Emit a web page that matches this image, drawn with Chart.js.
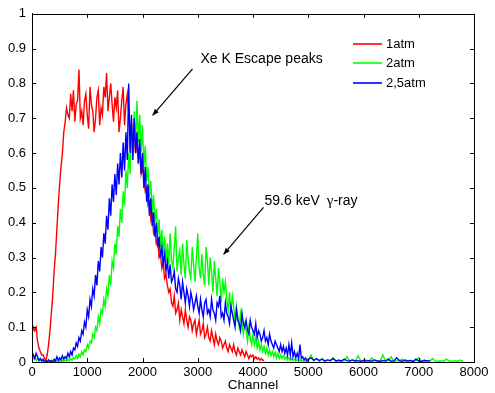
<!DOCTYPE html>
<html>
<head>
<meta charset="utf-8">
<script src="https://cdn.jsdelivr.net/npm/chart.js@4.4.1/dist/chart.umd.min.js"></script>
<style>
  html, body { margin: 0; padding: 0; background: #fff; }
  #wrap { width: 495px; height: 393px; }
</style>
</head>
<body>
<div id="wrap"><canvas id="c" width="495" height="393"></canvas></div>
<script>
// ---------- DATA ----------
const seriesNames = ['1atm', '2atm', '2,5atm'];
const mainStep = 25;      // channel spacing of the main part of each spectrum
const tailStart = 5050;   // first channel of the sparse tail
const tailStep = 50;      // channel spacing of the tail
const xTicks = [0, 1000, 2000, 3000, 4000, 5000, 6000, 7000, 8000];
const yTicks = [0, 0.1, 0.2, 0.3, 0.4, 0.5, 0.6, 0.7, 0.8, 0.9, 1];

// 1atm: channels 0 .. 4200 (step 25)
const red1atm = [
  0.08, 0.10, 0.09, 0.10, 0.06, 0.04, 0.03, 0.02, 0.02, 0.01,
  0.005, 0.02, 0.05, 0.09, 0.14, 0.19, 0.26, 0.31, 0.38, 0.45,
  0.51, 0.56, 0.60, 0.66, 0.69, 0.73, 0.71, 0.70, 0.77, 0.72,
  0.78, 0.69, 0.74, 0.75, 0.84, 0.70, 0.72, 0.68, 0.75, 0.77,
  0.71, 0.67, 0.79, 0.74, 0.72, 0.66, 0.70, 0.76, 0.78, 0.68,
  0.73, 0.71, 0.79, 0.76, 0.83, 0.72, 0.76, 0.80, 0.74, 0.69,
  0.76, 0.73, 0.78, 0.66, 0.70, 0.75, 0.79, 0.68, 0.74, 0.77,
  0.72, 0.65, 0.69, 0.62, 0.66, 0.60, 0.63, 0.58, 0.60, 0.54,
  0.56, 0.53, 0.49, 0.50, 0.45, 0.46, 0.41, 0.43, 0.37, 0.38,
  0.34, 0.35, 0.30, 0.31, 0.27, 0.29, 0.24, 0.25, 0.22, 0.20,
  0.21, 0.17, 0.16, 0.19, 0.14, 0.15, 0.17, 0.12, 0.15, 0.13,
  0.11, 0.15, 0.12, 0.10, 0.13, 0.12, 0.09, 0.11, 0.12, 0.08,
  0.10, 0.12, 0.08, 0.09, 0.11, 0.07, 0.08, 0.10, 0.07, 0.06,
  0.09, 0.07, 0.05, 0.08, 0.06, 0.05, 0.07, 0.06, 0.04, 0.05,
  0.06, 0.04, 0.03, 0.05, 0.04, 0.03, 0.05, 0.03, 0.02, 0.04,
  0.03, 0.02, 0.035, 0.025, 0.015, 0.03, 0.02, 0.01, 0.02, 0.015,
  0.02, 0.01, 0.015, 0.008, 0.012, 0.005, 0.01, 0.005, 0.005
];

// 2atm: channels 0 .. 5000 (step 25)
const green2atm = [
  0.02, 0.01, 0.015, 0.005, 0.01, 0.003, 0.008, 0.002, 0.005, 0.0,
  0.004, 0.0, 0.003, 0.0, 0.005, 0.001, 0.004, 0.0, 0.003, 0.0,
  0.004, 0.001, 0.005, 0.002, 0.006, 0.002, 0.008, 0.003, 0.01, 0.005,
  0.012, 0.008, 0.018, 0.01, 0.022, 0.015, 0.03, 0.02, 0.035, 0.03,
  0.05, 0.04, 0.06, 0.055, 0.08, 0.07, 0.10, 0.09, 0.13, 0.11,
  0.15, 0.14, 0.18, 0.16, 0.21, 0.19, 0.25, 0.22, 0.29, 0.27,
  0.34, 0.31, 0.39, 0.36, 0.44, 0.40, 0.49, 0.45, 0.55, 0.50,
  0.60, 0.54, 0.68, 0.58, 0.72, 0.62, 0.75, 0.63, 0.71, 0.60,
  0.68, 0.56, 0.62, 0.52, 0.56, 0.47, 0.52, 0.43, 0.48, 0.40,
  0.44, 0.36, 0.41, 0.33, 0.38, 0.31, 0.36, 0.29, 0.34, 0.28,
  0.37, 0.29, 0.27, 0.33, 0.39, 0.26, 0.30, 0.32, 0.25, 0.34,
  0.28, 0.24, 0.35, 0.30, 0.26, 0.24, 0.33, 0.28, 0.23, 0.30,
  0.37, 0.27, 0.24, 0.31, 0.25, 0.22, 0.33, 0.29, 0.22, 0.30,
  0.26, 0.20, 0.29, 0.24, 0.19, 0.27, 0.23, 0.17, 0.24, 0.20,
  0.23, 0.18, 0.15, 0.20, 0.14, 0.19, 0.16, 0.11, 0.16, 0.13,
  0.10, 0.14, 0.11, 0.08, 0.11, 0.09, 0.06, 0.10, 0.07, 0.05,
  0.08, 0.05, 0.07, 0.04, 0.06, 0.035, 0.05, 0.03, 0.045, 0.025,
  0.04, 0.02, 0.035, 0.018, 0.03, 0.015, 0.028, 0.012, 0.025, 0.01,
  0.02, 0.01, 0.018, 0.008, 0.015, 0.006, 0.012, 0.005, 0.01, 0.004,
  0.008, 0.003, 0.007, 0.002, 0.006, 0.002, 0.005, 0.001, 0.004, 0.001,
  0.005
];
// 2atm tail: channels 5050 .. 7800 (step 50)
const green2atmTail = [
  0.02, 0.004, 0.008, 0.003, 0.01, 0.002, 0.006, 0.003, 0.012, 0.002,
  0.005, 0.003, 0.004, 0.015, 0.003, 0.005, 0.002, 0.018, 0.004, 0.003,
  0.006, 0.002, 0.012, 0.003, 0.004, 0.002, 0.02, 0.003, 0.005, 0.015,
  0.002, 0.004, 0.003, 0.008, 0.002, 0.003, 0.005, 0.002, 0.004, 0.012,
  0.003, 0.002, 0.004, 0.002, 0.01, 0.003, 0.002, 0.004, 0.002, 0.008,
  0.003, 0.002, 0.004, 0.002, 0.006, 0.002
];

// 2,5atm: channels 0 .. 5000 (step 25)
const blue25atm = [
  0.03, 0.02, 0.01, 0.025, 0.015, 0.005, 0.01, 0.003, 0.008, 0.0,
  0.005, 0.0, 0.006, 0.002, 0.004, 0.0, 0.008, 0.003, 0.015, 0.005,
  0.012, 0.006, 0.018, 0.008, 0.015, 0.01, 0.025, 0.015, 0.03, 0.02,
  0.04, 0.035, 0.055, 0.045, 0.07, 0.06, 0.09, 0.08, 0.115, 0.10,
  0.15, 0.13, 0.18, 0.16, 0.21, 0.19, 0.25, 0.22, 0.29, 0.26,
  0.33, 0.30, 0.37, 0.34, 0.42, 0.38, 0.47, 0.42, 0.51, 0.46,
  0.54, 0.48, 0.57, 0.51, 0.60, 0.53, 0.63, 0.55, 0.66, 0.58,
  0.80, 0.60, 0.71, 0.58, 0.70, 0.60, 0.66, 0.57, 0.64, 0.54,
  0.60, 0.50, 0.56, 0.46, 0.51, 0.42, 0.47, 0.39, 0.43, 0.36,
  0.40, 0.33, 0.36, 0.30, 0.33, 0.28, 0.31, 0.26, 0.29, 0.24,
  0.28, 0.23, 0.24, 0.26, 0.21, 0.20, 0.24, 0.22, 0.18, 0.23,
  0.20, 0.17, 0.21, 0.19, 0.16, 0.20, 0.18, 0.15, 0.17, 0.19,
  0.16, 0.14, 0.18, 0.15, 0.13, 0.17, 0.18, 0.14, 0.15, 0.13,
  0.18, 0.15, 0.14, 0.12, 0.17, 0.16, 0.19, 0.13, 0.14, 0.12,
  0.17, 0.14, 0.13, 0.11, 0.16, 0.14, 0.12, 0.10, 0.15, 0.12,
  0.11, 0.09, 0.14, 0.11, 0.10, 0.12, 0.09, 0.08, 0.12, 0.10,
  0.09, 0.08, 0.11, 0.07, 0.09, 0.08, 0.06, 0.07, 0.09, 0.06,
  0.07, 0.05, 0.08, 0.06, 0.05, 0.04, 0.06, 0.05, 0.04, 0.03,
  0.05, 0.03, 0.045, 0.025, 0.04, 0.02, 0.05, 0.02, 0.055, 0.015,
  0.03, 0.012, 0.025, 0.01, 0.05, 0.01, 0.015, 0.006, 0.012, 0.004,
  0.008
];
// 2,5atm tail: channels 5050 .. 7200 (step 50)
const blue25atmTail = [
  0.012, 0.005, 0.01, 0.004, 0.008, 0.003, 0.006, 0.004, 0.01, 0.003,
  0.005, 0.003, 0.008, 0.004, 0.003, 0.006, 0.003, 0.004, 0.002, 0.005,
  0.003, 0.004, 0.002, 0.006, 0.003, 0.002, 0.004, 0.003, 0.008, 0.002,
  0.003, 0.012, 0.004, 0.002, 0.006, 0.003, 0.004, 0.002, 0.008, 0.003,
  0.002, 0.005, 0.003, 0.004
];

// ---------- build ----------
const FONT = "'Liberation Sans', Arial, Helvetica, sans-serif";
function toPoints(values, start, step) {
  return values.map((v, i) => ({ x: start + i * step, y: v }));
}
const colors = ['#ff0000', '#00ff00', '#0000ff'];
const allPoints = [
  toPoints(red1atm, 0, mainStep),
  toPoints(green2atm, 0, mainStep).concat(toPoints(green2atmTail, tailStart, tailStep)),
  toPoints(blue25atm, 0, mainStep).concat(toPoints(blue25atmTail, tailStart, tailStep))
];

const boxTicksPlugin = {
  id: 'boxTicks',
  afterDatasetsDraw(chart) {
    const { ctx, chartArea: a, scales } = chart;
    const L = 4;
    ctx.save();
    ctx.strokeStyle = '#000';
    ctx.lineWidth = 1;
    ctx.beginPath();
    ctx.rect(Math.round(a.left) + 0.5, Math.round(a.top) + 0.5,
             Math.round(a.right) - Math.round(a.left), Math.round(a.bottom) - Math.round(a.top));
    xTicks.forEach(t => {
      const px = Math.round(scales.x.getPixelForValue(t)) + 0.5;
      ctx.moveTo(px, a.bottom); ctx.lineTo(px, a.bottom - L);
      ctx.moveTo(px, a.top); ctx.lineTo(px, a.top + L);
    });
    yTicks.forEach(t => {
      const py = Math.round(scales.y.getPixelForValue(t)) + 0.5;
      ctx.moveTo(a.left, py); ctx.lineTo(a.left + L, py);
      ctx.moveTo(a.right, py); ctx.lineTo(a.right - L, py);
    });
    ctx.stroke();
    ctx.restore();
  }
};

const legendPlugin = {
  id: 'boxLegend',
  afterDraw(chart) {
    const { ctx, chartArea: a } = chart;
    ctx.save();
    ctx.font = '13px ' + FONT;
    ctx.textBaseline = 'middle';
    ctx.textAlign = 'left';
    seriesNames.forEach((name, i) => {
      const y = Math.round(a.top + 30 + i * 19.5);
      ctx.strokeStyle = colors[i];
      ctx.lineWidth = 1.6;
      ctx.beginPath();
      ctx.moveTo(a.right - 121, y); ctx.lineTo(a.right - 92, y);
      ctx.stroke();
      ctx.fillStyle = '#000';
      ctx.fillText(name, a.right - 88, y);
    });
    ctx.restore();
  }
};

function arrow(ctx, x1, y1, x2, y2) {
  ctx.beginPath();
  ctx.moveTo(x1, y1); ctx.lineTo(x2, y2);
  ctx.stroke();
  const ang = Math.atan2(y2 - y1, x2 - x1);
  const h = 7, w = 0.38;
  ctx.beginPath();
  ctx.moveTo(x2, y2);
  ctx.lineTo(x2 - h * Math.cos(ang - w), y2 - h * Math.sin(ang - w));
  ctx.lineTo(x2 - h * Math.cos(ang + w), y2 - h * Math.sin(ang + w));
  ctx.closePath();
  ctx.fill();
}

const annotationPlugin = {
  id: 'annot',
  afterDraw(chart) {
    const { ctx, scales } = chart;
    const X = v => scales.x.getPixelForValue(v);
    const Y = v => scales.y.getPixelForValue(v);
    ctx.save();
    ctx.strokeStyle = '#000';
    ctx.fillStyle = '#000';
    ctx.lineWidth = 1.2;
    ctx.textAlign = 'left';
    ctx.textBaseline = 'alphabetic';
    // Xe K Escape peaks
    ctx.font = '14px ' + FONT;
    ctx.fillText('Xe K Escape peaks', X(3050), Y(0.874) + 5);
    arrow(ctx, X(2906), Y(0.842), X(2183), Y(0.708));
    // 59.6 keV gamma-ray
    const tx = X(4208), ty = Y(0.464) + 5;
    ctx.font = '14px ' + FONT;
    const t1 = '59.6 keV';
    ctx.fillText(t1, tx, ty);
    let cx = tx + ctx.measureText(t1).width + 7;
    ctx.font = '15px "Liberation Serif", "DejaVu Serif", serif';
    ctx.fillText('γ', cx, ty);
    cx += ctx.measureText('γ').width;
    ctx.font = '14px ' + FONT;
    ctx.fillText('-ray', cx, ty);
    arrow(ctx, X(4190), Y(0.444), X(3467), Y(0.309));
    ctx.restore();
  }
};

new Chart(document.getElementById('c'), {
  type: 'line',
  data: {
    datasets: allPoints.map((pts, i) => ({
      label: seriesNames[i],
      data: pts,
      borderColor: colors[i],
      backgroundColor: colors[i],
      borderWidth: 1.4,
      pointRadius: 0,
      tension: 0,
      fill: false,
      order: 3 - i
    }))
  },
  options: {
    responsive: false,
    animation: false,
    parsing: false,
    layout: { padding: { top: 13, right: 21, left: 0, bottom: 0 } },
    plugins: { legend: { display: false }, tooltip: { enabled: false } },
    scales: {
      x: {
        type: 'linear',
        min: 0, max: 8000,
        afterBuildTicks: s => { s.ticks = xTicks.map(v => ({ value: v })); },
        afterFit: s => { s.height = 31; },
        grid: { display: false, drawTicks: false },
        border: { display: true, color: '#000', width: 1 },
        ticks: { color: '#000', font: { size: 13, family: FONT }, padding: 3, maxRotation: 0,
                 callback: v => String(v) },
        title: { display: true, text: 'Channel', color: '#000', font: { size: 13.5, family: FONT },
                 padding: { top: 0, bottom: 0 } }
      },
      y: {
        type: 'linear',
        min: 0, max: 1,
        afterBuildTicks: s => { s.ticks = yTicks.map(v => ({ value: v })); },
        afterFit: s => { s.width = 32; },
        grid: { display: false, drawTicks: false },
        border: { display: true, color: '#000', width: 1 },
        ticks: { color: '#000', font: { size: 13, family: FONT }, padding: 6,
                 callback: v => (v === 0 || v === 1) ? String(v) : v.toFixed(1) }
      }
    }
  },
  plugins: [boxTicksPlugin, legendPlugin, annotationPlugin]
});
</script>
</body>
</html>
